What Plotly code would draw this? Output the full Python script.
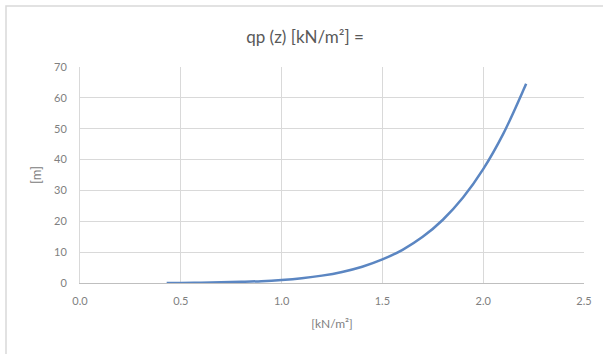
import plotly.graph_objects as go

qp = [0.43, 0.5, 0.6, 0.7, 0.8, 0.9, 1.0, 1.1, 1.2, 1.3, 1.4, 1.5, 1.6, 1.7, 1.8, 1.9, 2.0, 2.1, 2.2, 2.213]
z = [0.0, 0.03, 0.1, 0.22, 0.38, 0.6, 0.99, 1.56, 2.39, 3.59, 5.28, 7.64, 10.76, 14.95, 20.5, 27.7, 36.9, 48.4, 62.6, 64.6]

title = "qp (z) [kN/m²] ="
x_title = "[kN/m²]"
y_title = "[m]"
x_ticks = [0.0, 0.5, 1.0, 1.5, 2.0, 2.5]
y_ticks = [0, 10, 20, 30, 40, 50, 60, 70]

W, H = 603, 354
L, R, T, B = 80, 19, 67, 71
pw, ph = W - L - R, H - T - B

def px(xp):
    return (xp - L) / pw

def py(yp):
    return (H - B - yp) / ph

fig = go.Figure()
fig.add_trace(go.Scatter(x=qp, y=z, mode="lines",
                         line=dict(color="#5B86C2", width=2.5, shape="spline", smoothing=1.0),
                         showlegend=False))

font = "Lato, Open Sans, sans-serif"
fig.update_layout(
    width=W, height=H,
    margin=dict(l=L, r=R, t=T, b=B),
    paper_bgcolor="white", plot_bgcolor="white",
    title=dict(text=title, x=305 / W, xanchor="center", y=1 - 37 / H, yanchor="middle",
               font=dict(family=font, size=17, color="#595959")),
    xaxis=dict(range=[0, 2.5], tickvals=x_ticks, ticktext=[f"{v:.1f}" for v in x_ticks],
               showgrid=True, gridcolor="#D9D9D9", gridwidth=1, zeroline=False,
               showline=True, linecolor="#BFBFBF", linewidth=1, mirror=False,
               ticks="", ticklabelstandoff=8,
               tickfont=dict(family=font, size=11, color="#808080"),
               title=dict(text=x_title, font=dict(family=font, size=12, color="#808080"), standoff=13)),
    yaxis=dict(range=[0, 70], tickvals=y_ticks,
               showgrid=True, gridcolor="#D9D9D9", gridwidth=1, zeroline=False,
               showline=True, linecolor="#D9D9D9", linewidth=1,
               ticks="", ticklabelstandoff=10,
               tickfont=dict(family=font, size=11, color="#808080"),
               title=dict(text=y_title, font=dict(family=font, size=13, color="#808080"), standoff=9)),
)

fig.add_shape(type="rect", xref="paper", yref="paper",
              x0=px(6), x1=px(640), y0=py(400), y1=py(6),
              line=dict(color="#D9D9D9", width=1.5), fillcolor="rgba(0,0,0,0)", layer="below")

fig.write_html("out.html")
